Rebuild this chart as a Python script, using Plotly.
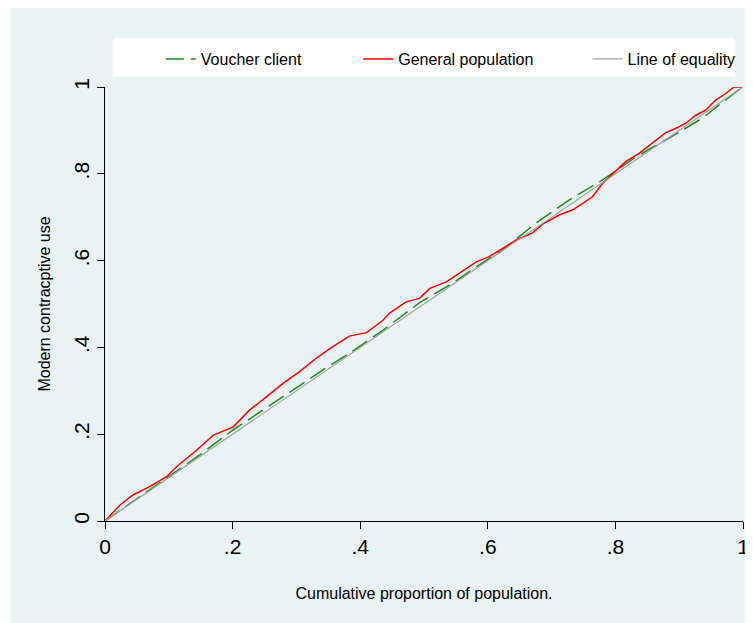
import plotly.graph_objects as go

# ---------------- data ----------------
gen_x = [0, 0.013, 0.0235, 0.044, 0.070, 0.0965, 0.112, 0.138, 0.170, 0.201,
         0.227, 0.253, 0.279, 0.305, 0.331, 0.357, 0.383, 0.410, 0.415, 0.436,
         0.446, 0.472, 0.493, 0.509, 0.535, 0.556, 0.582, 0.602, 0.623, 0.644,
         0.670, 0.686, 0.712, 0.733, 0.749, 0.764, 0.780, 0.796, 0.816, 0.837,
         0.858, 0.879, 0.895, 0.910, 0.926, 0.942, 0.957, 0.973, 0.986, 1.0]
gen_y = [0, 0.021, 0.037, 0.060, 0.079, 0.102, 0.125, 0.156, 0.198, 0.217,
         0.256, 0.286, 0.317, 0.344, 0.375, 0.402, 0.426, 0.434, 0.440, 0.463,
         0.479, 0.505, 0.513, 0.536, 0.551, 0.571, 0.597, 0.609, 0.628, 0.647,
         0.664, 0.684, 0.705, 0.717, 0.732, 0.747, 0.778, 0.801, 0.828, 0.847,
         0.870, 0.895, 0.905, 0.916, 0.935, 0.947, 0.970, 0.985, 1.0, 1.0]

vou_x = [0, 0.05, 0.10, 0.15, 0.201, 0.25, 0.305, 0.35, 0.383, 0.436, 0.493,
         0.545, 0.58, 0.623, 0.675, 0.728, 0.780, 0.832, 0.884, 0.936, 0.99, 1.0]
vou_y = [0, 0.052, 0.103, 0.154, 0.210, 0.258, 0.313, 0.356, 0.386, 0.440, 0.503,
         0.548, 0.584, 0.624, 0.686, 0.740, 0.786, 0.839, 0.882, 0.928, 0.99, 1.0]

eq_x = [0, 1]
eq_y = [0, 1]

y_tickvals = [0, 0.2, 0.4, 0.6, 0.8, 1]
y_ticktext = ["0", ".2", ".4", ".6", ".8", "1"]
x_tickvals = [0, 0.2, 0.4, 0.6, 0.8, 1]
x_ticktext = ["0", ".2", ".4", ".6", ".8", "1"]

BG = "#EAF2F3"
FONT = "Liberation Sans"

fig = go.Figure()
fig.add_trace(go.Scatter(x=vou_x, y=vou_y, mode="lines", name="Voucher client",
                         legend="legend",
                         line=dict(color="#1E8A1E", width=1.5, dash="18px,7px")))
fig.add_trace(go.Scatter(x=gen_x, y=gen_y, mode="lines", name="General population",
                         legend="legend2",
                         line=dict(color="#FF0000", width=1.5)))
fig.add_trace(go.Scatter(x=eq_x, y=eq_y, mode="lines", name="Line of equality",
                         legend="legend3",
                         line=dict(color="#A0A0A0", width=1.2)))

# figure coordinates (page shows figure offset by 8px)
L, R, T, B = 97, 737, 79, 513
W, H = 753, 623
pw, ph = R - L, B - T

def px(xp):
    return (xp - L) / pw

def py(yp):
    return (B - yp) / ph

shapes = [
    dict(type="rect", xref="paper", yref="paper", x0=px(2), x1=px(W + 5),
         y0=py(H + 5), y1=py(-5), fillcolor=BG, line=dict(width=0), layer="below"),
    dict(type="rect", xref="paper", yref="paper", x0=px(105), x1=px(729),
         y0=py(69), y1=py(30), fillcolor="white", line=dict(width=0), layer="below"),
]

def leg(xfig):
    return dict(orientation="h", x=px(xfig), y=py(51), xanchor="left", yanchor="middle",
                bgcolor="rgba(0,0,0,0)", font=dict(size=16, family=FONT))

fig.update_layout(
    width=W, height=H,
    margin=dict(l=L, r=W - R, t=T, b=H - B),
    paper_bgcolor="white",
    plot_bgcolor="white",
    font=dict(family=FONT, color="black"),
    shapes=shapes,
    showlegend=True,
    legend=leg(153),
    legend2=leg(351),
    legend3=leg(581),
    xaxis=dict(range=[0, 1], tickvals=x_tickvals, ticktext=x_ticktext,
               showgrid=False, zeroline=False, showline=True, linecolor="black",
               linewidth=1, ticks="outside", ticklen=7, tickcolor="black",
               tickfont=dict(size=21, family=FONT),
               title=dict(text="Cumulative proportion of population.",
                          font=dict(size=16, family=FONT), standoff=30)),
    yaxis=dict(range=[0, 1], tickvals=y_tickvals, ticktext=y_ticktext,
               showgrid=True, gridcolor=BG, gridwidth=1.5,
               zeroline=False, showline=True, linecolor="black",
               linewidth=1, ticks="outside", ticklen=7, tickcolor="black",
               tickangle=-90, tickfont=dict(size=21, family=FONT),
               title=dict(text="Modern contracptive use",
                          font=dict(size=16, family=FONT), standoff=14)),
)

fig.write_html("out.html")
